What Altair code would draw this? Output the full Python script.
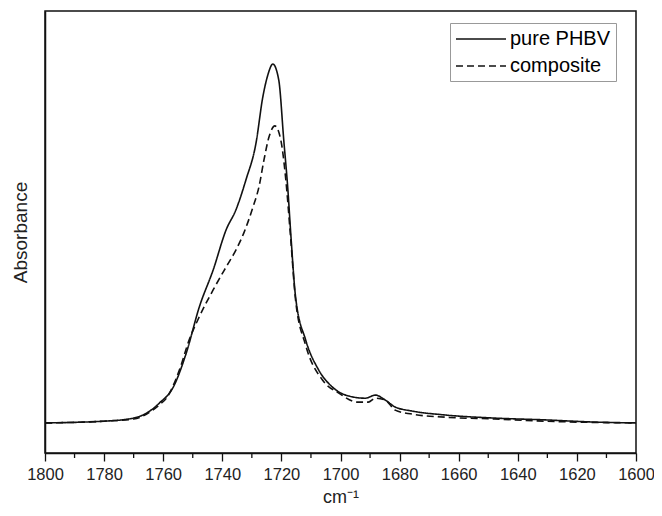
import altair as alt
import pandas as pd

# Wavenumbers (cm^-1) and absorbance (arb. units)
solid_wn = [1800, 1780, 1770, 1765.7, 1761.3, 1756.6, 1752.2, 1747.8, 1743.1, 1738.7,
            1735.4, 1732.0, 1728.6, 1726.3, 1724.6, 1722.9, 1720.9, 1719.2, 1717.8, 1716.8,
            1715.2, 1711.8, 1707.4, 1702.7, 1696.0, 1691.6, 1688.2, 1684.9, 1681.5, 1675.8,
            1664.6, 1647.8, 1631.0, 1614.1, 1600]
solid_abs = [0.068, 0.072, 0.079, 0.090, 0.113, 0.149, 0.226, 0.330, 0.414, 0.505,
             0.550, 0.618, 0.701, 0.805, 0.855, 0.880, 0.844, 0.708, 0.595, 0.493,
             0.353, 0.256, 0.188, 0.149, 0.127, 0.124, 0.131, 0.120, 0.104, 0.095,
             0.086, 0.079, 0.075, 0.070, 0.068]

dash_wn = [1800, 1780, 1770, 1761.3, 1758.9, 1754.5, 1751.2, 1747.8, 1743.1, 1738.7,
           1735.4, 1732.7, 1729.6, 1727.6, 1725.9, 1724.2, 1722.2, 1720.2, 1718.5, 1716.9,
           1715.2, 1711.8, 1706.1, 1700.7, 1694.0, 1690.6, 1688.2, 1684.9, 1681.5, 1675.8,
           1664.6, 1647.8, 1631.0, 1600]
dash_abs = [0.068, 0.072, 0.077, 0.109, 0.124, 0.188, 0.256, 0.308, 0.369, 0.421,
            0.459, 0.498, 0.557, 0.602, 0.663, 0.715, 0.740, 0.708, 0.618, 0.489,
            0.346, 0.244, 0.165, 0.136, 0.115, 0.115, 0.124, 0.120, 0.097, 0.088,
            0.081, 0.077, 0.072, 0.068]

series_names = ["pure PHBV", "composite"]
major_ticks = list(range(1800, 1599, -20))
minor_ticks = list(range(1790, 1600, -20))

df = pd.concat([
    pd.DataFrame({"wn": solid_wn, "abs": solid_abs, "series": series_names[0]}),
    pd.DataFrame({"wn": dash_wn, "abs": dash_abs, "series": series_names[1]}),
])
minor_df = pd.DataFrame({"wn": minor_ticks})

FONT = "Liberation Sans"

xscale = alt.Scale(domain=[1800, 1600], nice=False)

lines = alt.Chart(df).mark_line(interpolate="monotone", strokeWidth=1.6, color="#111").encode(
    x=alt.X("wn:Q", scale=xscale,
            axis=alt.Axis(values=major_ticks, tickSize=8, labelFontSize=16.5, labelPadding=5,
                          title="cm⁻¹", titleFontSize=18, titlePadding=6,
                          format="d", labelFlush=False)),
    y=alt.Y("abs:Q", scale=alt.Scale(domain=[0, 1], nice=False),
            axis=alt.Axis(labels=False, ticks=False, title="Absorbance",
                          titleFontSize=19, titlePadding=15)),
    strokeDash=alt.StrokeDash("series:N",
                              scale=alt.Scale(domain=series_names, range=[[1, 0], [7, 4]]),
                              legend=alt.Legend(title=None, orient="none", legendX=405, legendY=12,
                                                labelFontSize=20, labelFont=FONT,
                                                symbolType="M-1,0H4", symbolSize=400,
                                                symbolStrokeWidth=1.6, symbolStrokeColor="#111",
                                                labelOffset=33, rowPadding=6, padding=5,
                                                fillColor="white", strokeColor="#999")),
    order=alt.Order("wn:Q", sort="descending"),
)

minor = alt.Chart(minor_df).mark_rule(color="#111", strokeWidth=1.3).encode(
    x=alt.X("wn:Q", scale=xscale),
    y=alt.value(442),
    y2=alt.value(447),
)

chart = alt.layer(lines, minor).properties(
    width=591, height=442,
    autosize=alt.AutoSizeParams(type="none"),
    padding={"left": 37, "top": 3, "right": 18, "bottom": 55},
).configure_view(
    stroke="#111", strokeWidth=1.5
).configure_axis(
    grid=False, domainColor="#111", domainWidth=1.5, tickColor="#111", tickWidth=1.3,
    labelFont=FONT, titleFont=FONT, labelColor="#222", titleColor="#222",
    titleFontWeight="normal"
)

chart.save("out.html", embed_options={"renderer": "svg", "actions": False})
